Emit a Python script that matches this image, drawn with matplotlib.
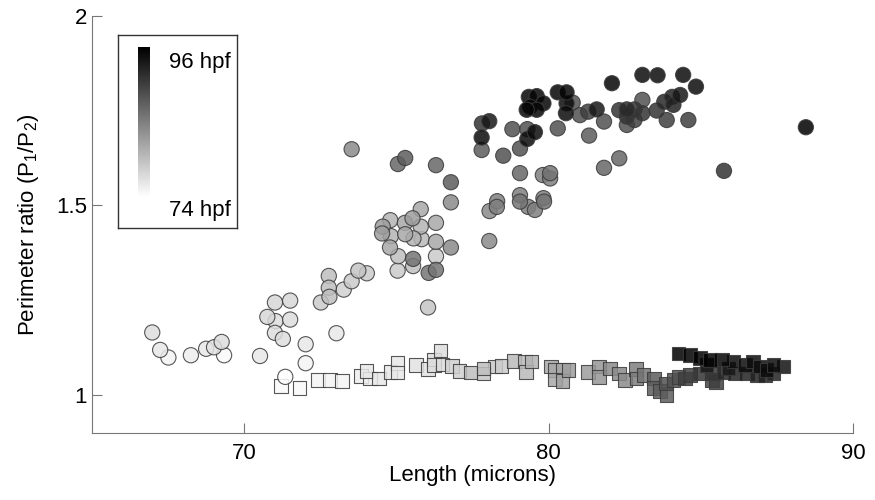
"""Perimeter ratio vs. length, grey level = developmental time (74-96 hpf)."""
import numpy as np
import matplotlib
matplotlib.use('Agg')
import matplotlib.pyplot as plt
from matplotlib.colors import Normalize

plt.rcParams['font.family'] = ['Liberation Sans', 'DejaVu Sans']
plt.rcParams['mathtext.fontset'] = 'custom'
plt.rcParams['mathtext.rm'] = 'Liberation Sans'

# circles: length (microns), perimeter ratio, age (hpf)
circ_len = [66.98, 67.24, 67.51, 68.25, 68.75, 69.01, 69.26, 69.34, 70.52, 71.01,
            71.51, 70.76, 71.03, 71.51, 71.01, 71.27, 72.02, 72.02, 71.35, 73.03,
            72.78, 72.78, 72.80, 72.52, 73.27, 73.53, 73.75, 74.03,
            73.53, 75.05, 75.29, 76.30, 76.79, 76.79, 77.80, 77.80, 78.51, 78.31,
            78.06, 78.05, 75.80, 74.80, 74.55, 74.53, 74.82, 75.28, 75.53, 75.80,
            75.29, 75.56, 75.83, 76.30, 76.30, 76.79, 74.79, 75.06, 75.55, 75.55,
            76.30, 76.06, 76.30, 75.04, 76.04,
            77.81, 78.05, 78.81, 79.06, 79.30, 79.30, 79.55, 79.35, 79.61, 79.83,
            79.39, 79.61, 79.28, 80.30, 80.59, 80.59, 80.57, 80.79, 80.30, 81.03,
            81.30, 81.58, 81.82, 81.33, 82.08, 83.08, 83.58, 82.32, 82.57, 82.82,
            82.57, 82.82, 83.08, 83.08, 82.57, 83.55, 83.80, 83.88, 81.82, 82.32,
            79.06, 79.81, 80.05, 80.05, 79.06, 79.06, 79.33, 79.55, 79.83, 79.85,
            78.30, 84.42, 84.84, 84.32, 84.06, 84.10, 84.59, 88.45, 85.76]
circ_ratio = [1.165, 1.119, 1.099, 1.105, 1.122, 1.126, 1.140, 1.105, 1.103, 1.244,
              1.249, 1.206, 1.195, 1.199, 1.164, 1.148, 1.134, 1.084, 1.048, 1.163,
              1.314, 1.283, 1.259, 1.244, 1.278, 1.300, 1.328, 1.321,
              1.648, 1.609, 1.625, 1.606, 1.561, 1.508, 1.679, 1.646, 1.631, 1.511,
              1.485, 1.406, 1.490, 1.461, 1.444, 1.426, 1.419, 1.454, 1.466, 1.444,
              1.424, 1.413, 1.411, 1.454, 1.404, 1.389, 1.389, 1.366, 1.359, 1.340,
              1.366, 1.322, 1.330, 1.328, 1.231,
              1.716, 1.722, 1.701, 1.650, 1.701, 1.675, 1.693, 1.786, 1.788, 1.769,
              1.760, 1.752, 1.752, 1.798, 1.798, 1.769, 1.743, 1.771, 1.703, 1.738,
              1.747, 1.753, 1.721, 1.684, 1.822, 1.844, 1.843, 1.751, 1.753, 1.753,
              1.734, 1.725, 1.778, 1.743, 1.712, 1.750, 1.773, 1.725, 1.599, 1.624,
              1.585, 1.580, 1.585, 1.571, 1.527, 1.510, 1.496, 1.488, 1.519, 1.510,
              1.496, 1.844, 1.813, 1.791, 1.786, 1.765, 1.725, 1.706, 1.591]
circ_hpf = [77, 76, 75, 75.5, 76, 76.5, 77, 74.5, 76, 77.5,
            77.5, 77.5, 77, 77, 77, 77, 76, 75, 74.2, 76,
            79.5, 79.5, 79.5, 78.5, 78, 78.5, 79, 78.5,
            84, 87, 88, 87, 88, 84, 95, 88, 89, 85,
            84, 84, 81.5, 80.5, 82.5, 82.5, 80.5, 81.5, 82.5, 80.5,
            81.5, 80.5, 80, 81.5, 81.5, 84, 81.5, 79.5, 86, 79.5,
            78.5, 86, 86, 78.5, 79,
            91.5, 94, 89, 89, 89, 95, 95, 95.5, 95.5, 95.5,
            95.5, 95.5, 95.5, 95.5, 95.5, 95, 95, 89, 89, 89,
            90.5, 94, 89, 88, 95.5, 95, 95, 91.5, 92.5, 91.5,
            91.5, 90.5, 89, 91.5, 89, 91.5, 92.5, 90.5, 87, 87,
            87, 85, 86, 85, 85, 86, 85, 85, 85, 86,
            85, 95, 95, 94, 93, 93, 90.5, 96, 91.5]

# squares
sq_len = [71.21, 71.82, 72.42, 72.82, 73.22, 73.84, 74.02, 74.13, 74.43, 74.81,
          75.04, 75.04, 75.64, 76.03, 76.24, 76.24, 76.45, 76.52, 76.83, 77.07,
          77.44, 77.86, 77.86, 78.24, 78.46, 78.86, 79.22, 79.44, 79.25, 80.07,
          80.21, 80.48, 80.65, 80.21, 80.46, 81.30, 81.66, 81.66, 82.02, 82.32,
          82.51, 82.87, 82.89, 83.11, 83.47, 83.47, 83.66, 83.86, 83.88, 84.10,
          84.26, 84.48, 84.65, 84.97, 85.41, 85.50, 85.74,
          84.26, 84.65, 84.97, 85.30, 85.69, 86.07, 85.19, 86.45, 86.72, 86.95,
          87.16, 87.38, 87.71, 86.51, 86.84, 87.11, 87.38, 86.13, 85.91, 85.36]
sq_ratio = [1.024, 1.019, 1.040, 1.040, 1.037, 1.050, 1.063, 1.044, 1.044, 1.061,
            1.085, 1.059, 1.079, 1.068, 1.094, 1.079, 1.117, 1.081, 1.077, 1.064,
            1.059, 1.070, 1.057, 1.075, 1.076, 1.090, 1.088, 1.088, 1.061, 1.075,
            1.066, 1.066, 1.066, 1.041, 1.037, 1.061, 1.075, 1.048, 1.070, 1.057,
            1.040, 1.068, 1.044, 1.053, 1.044, 1.018, 1.011, 1.031, 1.000, 1.040,
            1.048, 1.044, 1.053, 1.057, 1.057, 1.035, 1.059,
            1.110, 1.105, 1.097, 1.092, 1.094, 1.088, 1.079, 1.079, 1.088, 1.075,
            1.066, 1.079, 1.075, 1.057, 1.053, 1.053, 1.057, 1.057, 1.070, 1.040]
sq_hpf = [74.5, 74.5, 75, 75, 75, 75.5, 76, 75.5, 76, 76,
          76, 76, 76.5, 76.5, 77, 77, 77, 77, 78, 78,
          79.5, 79.5, 79, 78.5, 78.5, 80, 80, 80.5, 80, 81.5,
          81.5, 81.5, 82.5, 81.5, 82, 82.5, 83, 83, 84, 84,
          84, 85, 85, 86, 88, 88, 88, 89, 88, 89,
          89, 90.5, 90.5, 91.5, 91.5, 90.5, 92.5,
          96, 96, 96, 96, 95.5, 95, 94, 95, 95, 95,
          95, 95, 94.5, 93, 93, 93, 93, 93, 94, 90]

HPF_MIN, HPF_MAX = 74, 96


def draw_series(ax, x, y, hpf, marker, size):
    x, y, hpf = map(np.asarray, (x, y, hpf))
    order = np.argsort(hpf, kind='stable')   # darker (later) points on top
    ax.scatter(x[order], y[order], c=hpf[order], cmap='gray_r',
               norm=Normalize(HPF_MIN, HPF_MAX), marker=marker, s=size,
               edgecolors='#3a3a3a', linewidths=0.8, alpha=0.85, zorder=3)


def main():
    fig = plt.figure(figsize=(8.75, 5), dpi=100)
    ax = fig.add_axes([0.1051, 0.134, 0.8698, 0.8346])

    draw_series(ax, sq_len, sq_ratio, sq_hpf, 's', 95)
    draw_series(ax, circ_len, circ_ratio, circ_hpf, 'o', 120)

    ax.set_xlim(65, 90)
    ax.set_ylim(0.9, 2.0)
    ax.set_xticks([70, 80, 90])
    ax.set_yticks([1, 1.5, 2])
    ax.set_yticklabels(['1', '1.5', '2'])
    for side in ('top', 'right'):
        ax.spines[side].set_visible(False)
    for side in ('left', 'bottom'):
        ax.spines[side].set_color('#777777')
        ax.spines[side].set_linewidth(0.8)
    ax.tick_params(direction='in', length=7, width=0.8, color='#777777',
                   labelsize=16)
    ax.tick_params(axis='x', pad=7)
    ax.tick_params(axis='y', pad=3.5)
    ax.set_xlabel('Length (microns)', fontsize=16, labelpad=1)
    ax.set_ylabel(r'Perimeter ratio (P$_\mathregular{1}$/P$_\mathregular{2}$)',
                  fontsize=16, labelpad=11)

    # time legend: box with a grey ramp
    box = fig.add_axes([0.1349, 0.544, 0.136, 0.386])
    box.set_xticks([]); box.set_yticks([])
    for s in box.spines.values():
        s.set_color('#333333'); s.set_linewidth(1.0)
    box.text(0.95, 0.86, '96 hpf', ha='right', va='center', fontsize=16,
             transform=box.transAxes)
    box.text(0.95, 0.09, '74 hpf', ha='right', va='center', fontsize=16,
             transform=box.transAxes)
    bar = fig.add_axes([0.1577, 0.606, 0.0137, 0.30])
    ramp = np.linspace(HPF_MIN, HPF_MAX, 256).reshape(-1, 1)
    bar.imshow(ramp, aspect='auto', origin='lower', cmap='gray_r',
               norm=Normalize(HPF_MIN, HPF_MAX))
    bar.axis('off')

    fig.savefig('out.png', dpi=100)
    plt.close(fig)


if __name__ == '__main__':
    main()
